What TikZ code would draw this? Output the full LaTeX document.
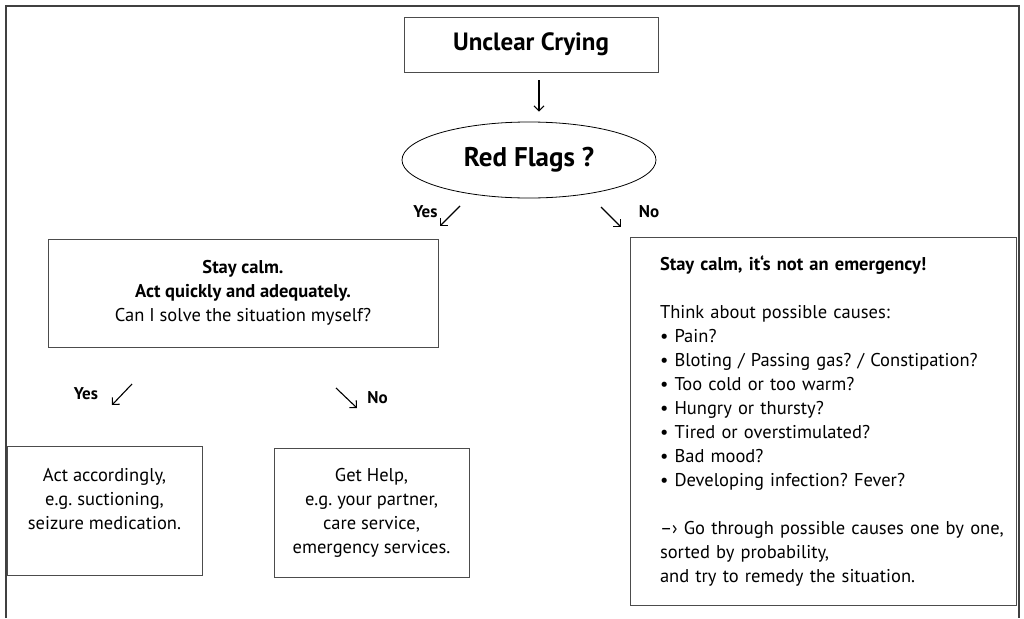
\documentclass[tikz,border=0pt]{standalone}
\usepackage{fontspec}
\setmainfont{PT Sans}
\usetikzlibrary{shapes,positioning,arrows.meta}

\begin{document}
\frenchspacing
\begin{tikzpicture}[x=1pt, y=-1pt,
    box/.style={draw=black!70, line width=0.8pt, rectangle, align=center, font=\fontsize{18.5}{24}\selectfont},
    choice/.style={anchor=base, font=\bfseries\fontsize{17}{20}\selectfont},
    stick/.style={-{Straight Barb[length=5pt,width=10pt]}, line width=1.1pt}]
    \useasboundingbox (0,0) rectangle (1024,618);
    \draw [line width=1.6pt, black!75] (6,618) -- (6,6) -- (1019,6) -- (1019,618);

    \node (crying) [box, minimum width=254, minimum height=55, font=\bfseries\fontsize{25}{30}\selectfont] at (531,44.5) {Unclear Crying};
    \node (flags) [ellipse, draw, line width=0.8pt, minimum width=254, minimum height=76, font=\bfseries\fontsize{27}{30}\selectfont] at (529,160) {Red Flags ?};
    \draw [stick] ([xshift=8pt, yshift=-8pt]crying.south) -- ([xshift=10pt, yshift=10pt]flags.north);

    \node (yes1) [choice] at (425.5,217) {Yes};
    \node (no1) [choice] at (649,217) {No};
    \coordinate (yes1 tail) at (460,206);
    \coordinate (yes1 head) at (440,226);
    \coordinate (no1 tail) at (601,207);
    \coordinate (no1 head) at (621,227);
    \draw [stick] (yes1 tail) -- (yes1 head);
    \draw [stick] (no1 tail) -- (no1 head);

    \node (calm) [box, minimum width=390, minimum height=108] at (243,293) {\textbf{Stay calm.}\\\textbf{Act quickly and adequately.}\\Can I solve the situation myself?};

    \node (yes2) [choice] at (86,399) {Yes};
    \node (no2) [choice] at (377.5,403) {No};
    \coordinate (yes2 tail) at (132,384);
    \coordinate (yes2 head) at (112,405);
    \coordinate (no2 tail) at (336,388);
    \coordinate (no2 head) at (357,408);
    \draw [stick] (yes2 tail) -- (yes2 head);
    \draw [stick] (no2 tail) -- (no2 head);

    \node (act) [box, minimum width=195, minimum height=129] at (104.5,510.5) {Act accordingly,\\e.g. suctioning,\\seizure medication.\\\mbox{}};
    \node (help) [box, minimum width=195, minimum height=129] at (371.5,512.5) {Get Help,\\e.g. your partner,\\care service,\\emergency services.};

    \node (relax) [box, align=left, text width=376, inner xsep=5, minimum height=367.5] at (823,421.25) {\leftskip=25pt
        \textbf{Stay calm, it‘s not an emergency!}\\[24pt]
        Think about possible causes:\\
        • Pain?\\
        • Bloting / Passing gas? / Constipation?\\
        • Too cold or too warm?\\
        • Hungry or thursty?\\
        • Tired or overstimulated?\\
        • Bad mood?\\
        • Developing infection? Fever?\\[24pt]
        –› Go through possible causes one by one,\\
        sorted by probability,\\
        and try to remedy the situation.\par};
\end{tikzpicture}
\end{document}
